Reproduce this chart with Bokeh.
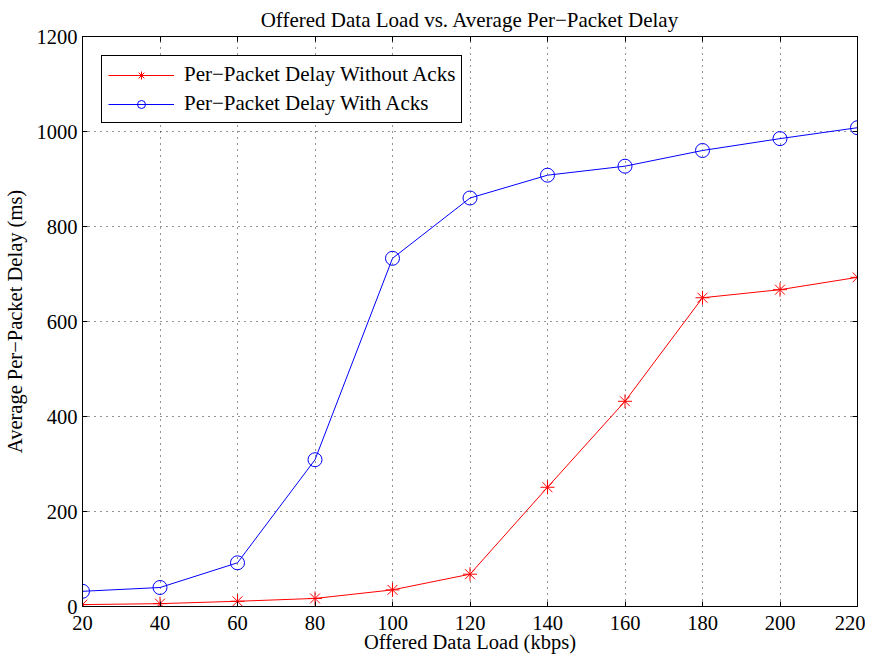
from bokeh.plotting import figure
from bokeh.models import LinearAxis, Range1d, FixedTicker, Legend, LegendItem
from bokeh.embed import file_html
from bokeh.resources import INLINE

# ---- data ----
load_kbps = [20, 40, 60, 80, 100, 120, 140, 160, 180, 200, 220]
delay_without_acks = [4, 6, 11, 17, 35, 68, 251, 432, 650, 667, 693]
delay_with_acks = [32, 40, 92, 309, 733, 860, 908, 927, 960, 985, 1008]
x_ticks = [20, 40, 60, 80, 100, 120, 140, 160, 180, 200, 220]
y_ticks = [0, 200, 400, 600, 800, 1000, 1200]

FONT = "Liberation Serif"
FS = "20.5px"
FS_BIG = "21px"

p = figure(width=865, height=655, output_backend="svg", toolbar_location=None,
           x_range=Range1d(20, 220), y_range=Range1d(0, 1200),
           min_border_left=74, min_border_right=8, min_border_top=31, min_border_bottom=40,
           title="Offered Data Load vs. Average Per\u2212Packet Delay")
p.background_fill_color = "white"
p.border_fill_color = "white"
p.outline_line_color = "black"
p.outline_line_width = 1
p.outline_line_alpha = 1

p.title.align = "center"
p.title.text_font = FONT
p.title.text_font_size = FS_BIG
p.title.text_font_style = "normal"
p.title.text_color = "black"
p.title.standoff = 10
p.title.offset = 0

for ax in p.xaxis + p.yaxis:
    ax.major_tick_in = 5
    ax.major_tick_out = 0
    ax.minor_tick_in = 0
    ax.minor_tick_out = 0
    ax.axis_line_color = "black"
    ax.major_tick_line_color = "black"
    ax.major_label_text_font = FONT
    ax.major_label_text_font_size = FS
    ax.major_label_text_color = "black"
    ax.axis_label_text_font = FONT
    ax.axis_label_text_font_size = FS
    ax.axis_label_text_font_style = "normal"
    ax.axis_label_text_color = "black"

p.xaxis.ticker = FixedTicker(ticks=x_ticks)
p.yaxis.ticker = FixedTicker(ticks=y_ticks)
p.xaxis.axis_label = "Offered Data Load (kbps)"
p.yaxis.axis_label = "Average Per\u2212Packet Delay (ms)"
p.xaxis.major_label_standoff = 9
p.xaxis.axis_label_standoff = -2
p.yaxis.major_label_standoff = 5
p.yaxis.axis_label_standoff = 8

# box axes (top / right) with inward ticks, no labels
top = LinearAxis(ticker=FixedTicker(ticks=x_ticks),
                 major_label_overrides={t: "" for t in x_ticks})
right = LinearAxis(ticker=FixedTicker(ticks=y_ticks),
                   major_label_overrides={t: "" for t in y_ticks})
for ax in (top, right):
    ax.major_tick_in = 5
    ax.major_tick_out = 0
    ax.minor_tick_in = 0
    ax.minor_tick_out = 0
    ax.major_label_text_font_size = "1px"
    ax.major_label_standoff = 0
    ax.axis_line_color = "black"
    ax.major_tick_line_color = "black"
p.add_layout(top, "above")
p.add_layout(right, "right")

for g in (p.xgrid[0], p.ygrid[0]):
    g.grid_line_color = "black"
    g.grid_line_dash = "1 5"
    g.grid_line_width = 1
    g.grid_line_alpha = 0.85
p.xgrid.ticker = FixedTicker(ticks=x_ticks)
p.ygrid.ticker = FixedTicker(ticks=y_ticks)

r1 = p.line(load_kbps, delay_without_acks, line_color="red", line_width=1)
m1 = p.scatter(load_kbps, delay_without_acks, marker="asterisk", size=14,
               line_color="red", line_width=1)
r2 = p.line(load_kbps, delay_with_acks, line_color="blue", line_width=1)
m2 = p.scatter(load_kbps, delay_with_acks, marker="circle", size=14,
               line_color="blue", fill_color=None, line_width=1)

legend = Legend(items=[
    LegendItem(label="Per\u2212Packet Delay Without Acks", renderers=[r1, m1]),
    LegendItem(label="Per\u2212Packet Delay With Acks", renderers=[r2, m2]),
], location="top_left")
legend.margin = 19
legend.padding = 6
legend.spacing = 4
legend.glyph_width = 66
legend.glyph_height = 20
legend.label_height = 20
legend.label_standoff = 10
legend.label_text_font = FONT
legend.label_text_font_size = FS_BIG
legend.label_text_font_style = "normal"
legend.label_text_color = "black"
legend.border_line_color = "black"
legend.border_line_width = 1
legend.border_line_alpha = 1
legend.background_fill_color = "white"
legend.background_fill_alpha = 1
p.add_layout(legend)

open("out.html", "w").write(file_html(p, INLINE))
